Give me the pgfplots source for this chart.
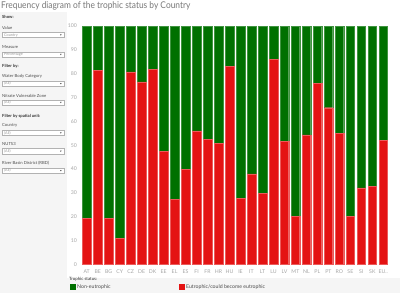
\documentclass[border=0pt]{standalone}
\usepackage{pgfplots}
\pgfplotsset{compat=1.18}
\usepackage{pgfplotstable}
\usepackage{fontspec}
\setmainfont{Lato}
\definecolor{eured}{RGB}{228,19,19}
\definecolor{eugreen}{RGB}{0,112,0}
\definecolor{panel}{RGB}{245,245,245}
\definecolor{txt}{RGB}{120,120,120}
\pgfplotstableread{
x lab red green
0 AT 19.4 80.6
1 BE 81.5 18.5
2 BG 19.4 80.6
3 CY 10.8 89.2
4 CZ 80.7 19.3
5 DE 76.6 23.4
6 DK 81.9 18.1
7 EE 47.4 52.6
8 EL 27.2 72.8
9 ES 39.9 60.1
10 FI 56.0 44.0
11 FR 52.4 47.6
12 HR 50.8 49.2
13 HU 83.0 17.0
14 IE 27.6 72.4
15 IT 37.9 62.1
16 LT 29.7 70.3
17 LU 85.9 14.1
18 LV 51.7 48.3
19 MT 20.0 80.0
20 NL 54.3 45.7
21 PL 75.9 24.1
22 PT 65.7 34.3
23 RO 54.9 45.1
24 SE 20.1 79.9
25 SI 32.1 67.9
26 SK 32.6 67.4
27 EU.. 51.9 48.1
}\datatable
\newcommand{\pfont}{\fontsize{4.2}{5}\selectfont}
\newcommand{\ddbox}[2]{%
  \draw[gray!60,line width=0.5pt,fill=white] (2,293-#1-2.7) rectangle (64.5,293-#1+2.7);
  \node[anchor=west,inner sep=0pt,text=gray!80] at (4,293-#1) {\fontsize{3.8}{4}\selectfont #2};
  \fill[black!70] (60,293-#1+0.6) -- (61.6,293-#1+0.6) -- (60.8,293-#1-0.6) -- cycle;
}
\begin{document}
\begin{tikzpicture}[x=1pt,y=1pt]
\useasboundingbox (0,0) rectangle (400,293);
\fill[white] (0,0) rectangle (400,293);
\fill[panel] (0,0) rectangle (400,15);
\fill[panel] (0,15) rectangle (67,281);
\node[anchor=west,inner sep=0pt,text=txt] at (1,287) {\scalebox{0.9}[1]{\fontsize{9.3}{11}\selectfont Frequency diagram of the trophic status by Country}};
% panel
\node[anchor=west,inner sep=0pt,text=black!80] at (2,293-17) {\pfont\bfseries Show:};
\node[anchor=west,inner sep=0pt,text=black!70] at (2,293-27.5) {\pfont Value};
\ddbox{35}{Country}
\node[anchor=west,inner sep=0pt,text=black!70] at (2,293-47.3) {\pfont Measure};
\ddbox{54.5}{Percentage}
\node[anchor=west,inner sep=0pt,text=black!80] at (2,293-66.7) {\pfont\bfseries Filter by:};
\node[anchor=west,inner sep=0pt,text=black!70] at (2,293-76.7) {\pfont Water Body Category};
\ddbox{83.7}{(All)}
\node[anchor=west,inner sep=0pt,text=black!70] at (2,293-96) {\pfont Nitrate Vulnerable Zone};
\ddbox{102.5}{(All)}
\node[anchor=west,inner sep=0pt,text=black!80] at (2,293-116) {\pfont\bfseries Filter by spatial unit:};
\node[anchor=west,inner sep=0pt,text=black!70] at (2,293-125.3) {\pfont Country};
\ddbox{133}{(All)}
\node[anchor=west,inner sep=0pt,text=black!70] at (2,293-144) {\pfont NUTS3};
\ddbox{151.3}{(All)}
\node[anchor=west,inner sep=0pt,text=black!70] at (2,293-163.3) {\pfont River Basin District (RBD)};
\ddbox{170.7}{(All)}
% legend
\node[anchor=west,inner sep=0pt,text=black!80] at (69,293-279.5) {\fontsize{4.4}{5}\selectfont Trophic status:};
\fill[eugreen] (70,293-289.5) rectangle (75.5,293-284);
\node[anchor=west,inner sep=0pt,text=black!70] at (77,293-287) {\fontsize{5.2}{6}\selectfont Non-eutrophic};
\fill[eured] (179,293-289.5) rectangle (184.5,293-284);
\node[anchor=west,inner sep=0pt,text=black!70] at (186,293-287) {\fontsize{5.2}{6}\selectfont Eutrophic/could become eutrophic};
\begin{axis}[
  at={(80pt,28.7pt)}, anchor=south west,
  scale only axis, width=320pt, height=238.3pt,
  xmin=-0.61, xmax=28.52, ymin=0, ymax=100,
  ybar stacked, bar width=8.6pt,
  axis line style={draw=none},
  major tick length=0pt,
  xtick=data, xticklabels from table={\datatable}{lab},
  ytick={0,10,...,100},
  tick label style={text=gray!70, font=\fontsize{5.2}{6}\selectfont},
  yticklabel style={inner sep=0pt, xshift=-3pt},
  xticklabel style={inner sep=0pt, yshift=-5pt},
  /pgf/number format/assume math mode=true,
  clip=false,
]
\addplot[fill=eured, draw=eured!70!white, line width=0.3pt] table[x=x,y=red]{\datatable};
\addplot[fill=eugreen, draw=eugreen!75!white, line width=0.3pt] table[x=x,y=green]{\datatable};
\end{axis}
\end{tikzpicture}
\end{document}
